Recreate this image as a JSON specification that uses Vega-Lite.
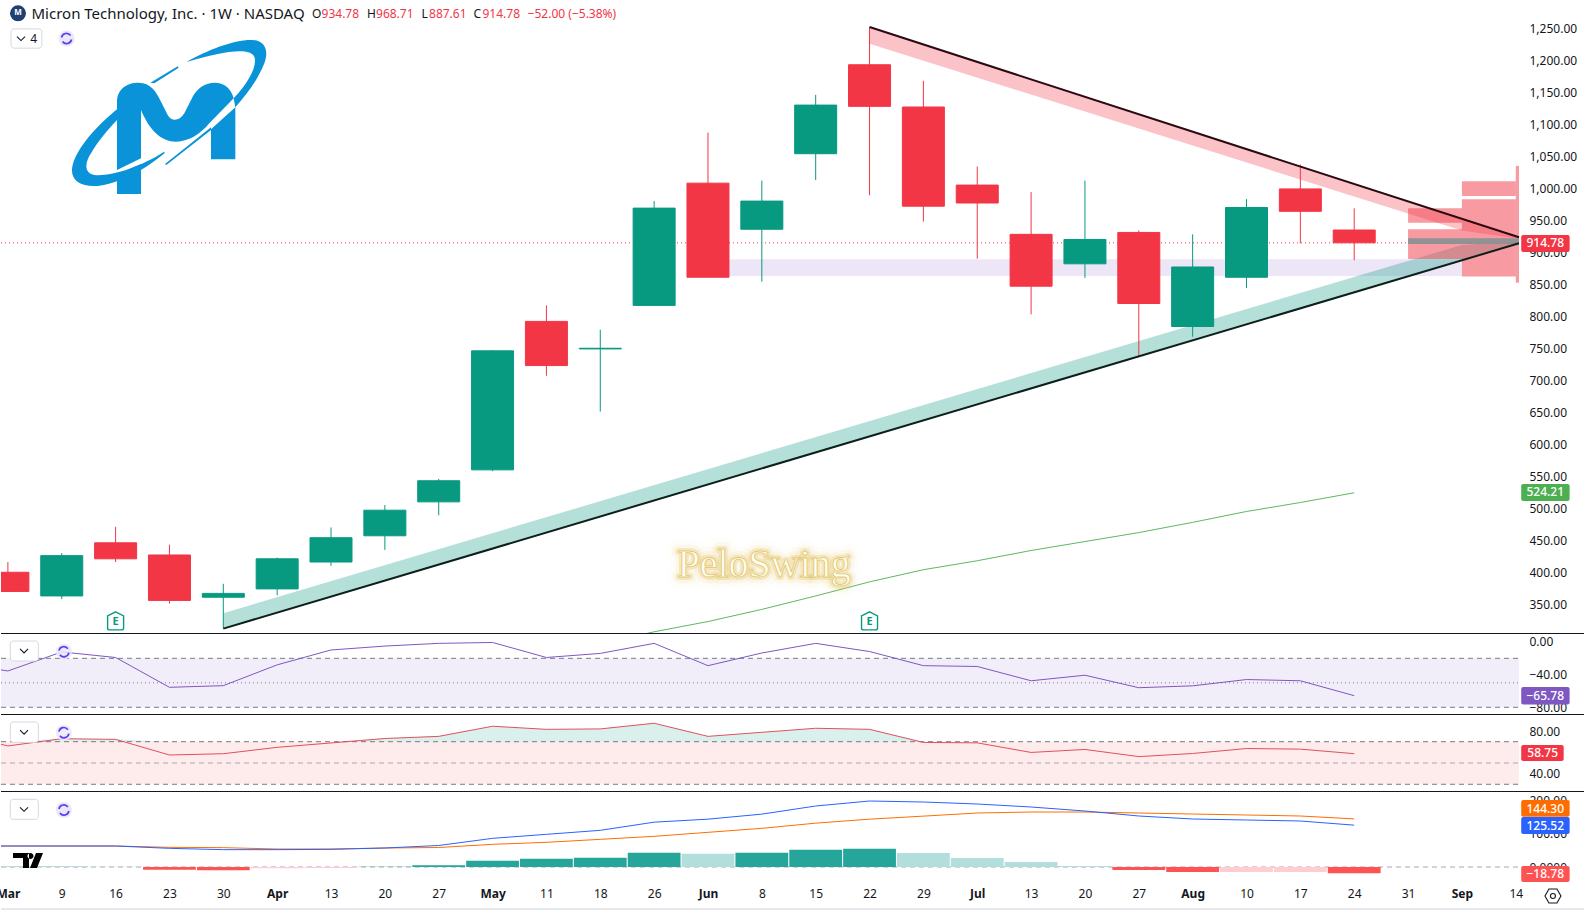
{
  "$schema": "https://vega.github.io/schema/vega-lite/v6.json",
  "background": "#ffffff",
  "padding": {"left": -5, "right": 0, "top": 0, "bottom": 0},
  "spacing": 0,
  "bounds": "flush",
  "resolve": {"scale": {"color": "independent", "stroke": "independent"}},
  "config": {"view": {"stroke": null}, "text": {"font": "Noto Sans"}},
  "datasets": {
    "candles": [
      {"date": "2026-03-02", "open": 400, "high": 416, "low": 369, "close": 370, "dir": "down"},
      {"date": "2026-03-09", "open": 363, "high": 430, "low": 358, "close": 426, "dir": "up"},
      {"date": "2026-03-16", "open": 446, "high": 471, "low": 416, "close": 421, "dir": "down"},
      {"date": "2026-03-23", "open": 427, "high": 443, "low": 351, "close": 356, "dir": "down"},
      {"date": "2026-03-30", "open": 361, "high": 382, "low": 312, "close": 367, "dir": "up"},
      {"date": "2026-04-06", "open": 374, "high": 423, "low": 364, "close": 421, "dir": "up"},
      {"date": "2026-04-13", "open": 416, "high": 470, "low": 410, "close": 454, "dir": "up"},
      {"date": "2026-04-20", "open": 457, "high": 505, "low": 435, "close": 497, "dir": "up"},
      {"date": "2026-04-27", "open": 510, "high": 546, "low": 489, "close": 543, "dir": "up"},
      {"date": "2026-05-04", "open": 560, "high": 747, "low": 558, "close": 746, "dir": "up"},
      {"date": "2026-05-11", "open": 792, "high": 817, "low": 707, "close": 723, "dir": "down"},
      {"date": "2026-05-18", "open": 749, "high": 779, "low": 651, "close": 750, "dir": "up"},
      {"date": "2026-05-25", "open": 817, "high": 980, "low": 817, "close": 969, "dir": "up"},
      {"date": "2026-06-01", "open": 1008, "high": 1087, "low": 861, "close": 861, "dir": "down"},
      {"date": "2026-06-08", "open": 936, "high": 1012, "low": 854, "close": 980, "dir": "up"},
      {"date": "2026-06-15", "open": 1054, "high": 1146, "low": 1013, "close": 1130, "dir": "up"},
      {"date": "2026-06-22", "open": 1193, "high": 1252, "low": 989, "close": 1128, "dir": "down"},
      {"date": "2026-06-29", "open": 1127, "high": 1168, "low": 948, "close": 972, "dir": "down"},
      {"date": "2026-07-06", "open": 1005, "high": 1034, "low": 890, "close": 977, "dir": "down"},
      {"date": "2026-07-13", "open": 928, "high": 994, "low": 803, "close": 847, "dir": "down"},
      {"date": "2026-07-20", "open": 882, "high": 1012, "low": 860, "close": 920, "dir": "up"},
      {"date": "2026-07-27", "open": 931, "high": 934, "low": 738, "close": 820, "dir": "down"},
      {"date": "2026-08-03", "open": 784, "high": 928, "low": 768, "close": 877, "dir": "up"},
      {"date": "2026-08-10", "open": 861, "high": 983, "low": 844, "close": 970, "dir": "up"},
      {"date": "2026-08-17", "open": 999, "high": 1037, "low": 914, "close": 964, "dir": "down"},
      {"date": "2026-08-24", "open": 934.78, "high": 968.71, "low": 887.61, "close": 914.78, "dir": "down"}
    ],
    "ma": [
      {"date": "2026-05-18", "price": 288},
      {"date": "2026-05-25", "price": 307},
      {"date": "2026-06-01", "price": 323},
      {"date": "2026-06-08", "price": 342},
      {"date": "2026-06-15", "price": 363},
      {"date": "2026-06-22", "price": 385},
      {"date": "2026-06-29", "price": 404},
      {"date": "2026-07-06", "price": 418},
      {"date": "2026-07-13", "price": 434},
      {"date": "2026-07-20", "price": 448},
      {"date": "2026-07-27", "price": 462},
      {"date": "2026-08-03", "price": 478},
      {"date": "2026-08-10", "price": 495},
      {"date": "2026-08-17", "price": 509},
      {"date": "2026-08-24", "price": 524.21}
    ],
    "oscillators": [
      {"date": "2026-02-23", "wpr": -25.7, "rsi": 78, "over": 78, "macd": 62, "signal": 62},
      {"date": "2026-03-02", "wpr": -35.5, "rsi": 66, "over": 70, "macd": 63, "signal": 63},
      {"date": "2026-03-09", "wpr": -12.2, "rsi": 72.8, "over": 72.8, "macd": 63, "signal": 63},
      {"date": "2026-03-16", "wpr": -19, "rsi": 72.2, "over": 72.2, "macd": 63, "signal": 63},
      {"date": "2026-03-23", "wpr": -55.5, "rsi": 57.5, "over": 70, "macd": 56, "signal": 59},
      {"date": "2026-03-30", "wpr": -53.5, "rsi": 58.7, "over": 70, "macd": 52, "signal": 58},
      {"date": "2026-04-06", "wpr": -28, "rsi": 64.7, "over": 70, "macd": 52, "signal": 54},
      {"date": "2026-04-13", "wpr": -9.8, "rsi": 68.8, "over": 70, "macd": 53, "signal": 54},
      {"date": "2026-04-20", "wpr": -5, "rsi": 73, "over": 73, "macd": 57, "signal": 57},
      {"date": "2026-04-27", "wpr": -1.7, "rsi": 75, "over": 75, "macd": 64.5, "signal": 58.5},
      {"date": "2026-05-04", "wpr": -0.6, "rsi": 84.5, "over": 84.5, "macd": 86, "signal": 68},
      {"date": "2026-05-11", "wpr": -19, "rsi": 81.6, "over": 81.6, "macd": 98, "signal": 74},
      {"date": "2026-05-18", "wpr": -14, "rsi": 82, "over": 82, "macd": 110, "signal": 83},
      {"date": "2026-05-25", "wpr": -1.7, "rsi": 87.3, "over": 87.3, "macd": 134.5, "signal": 92},
      {"date": "2026-06-01", "wpr": -29, "rsi": 75, "over": 75, "macd": 143.5, "signal": 104},
      {"date": "2026-06-08", "wpr": -13.5, "rsi": 78.8, "over": 78.8, "macd": 158.6, "signal": 116},
      {"date": "2026-06-15", "wpr": -1.7, "rsi": 82.6, "over": 82.6, "macd": 183, "signal": 131.5},
      {"date": "2026-06-22", "wpr": -11.7, "rsi": 81.6, "over": 81.6, "macd": 198, "signal": 143.5},
      {"date": "2026-06-29", "wpr": -29, "rsi": 69.3, "over": 70, "macd": 195, "signal": 152.6},
      {"date": "2026-07-06", "wpr": -30, "rsi": 68.9, "over": 70, "macd": 189, "signal": 162},
      {"date": "2026-07-13", "wpr": -47.5, "rsi": 59.9, "over": 70, "macd": 180, "signal": 165},
      {"date": "2026-07-20", "wpr": -40.7, "rsi": 62.7, "over": 70, "macd": 168, "signal": 165},
      {"date": "2026-07-27", "wpr": -56, "rsi": 56, "over": 70, "macd": 153, "signal": 162},
      {"date": "2026-08-03", "wpr": -53.7, "rsi": 58.9, "over": 70, "macd": 144, "signal": 159},
      {"date": "2026-08-10", "wpr": -46, "rsi": 63.6, "over": 70, "macd": 141, "signal": 156},
      {"date": "2026-08-17", "wpr": -47.5, "rsi": 63, "over": 70, "macd": 138, "signal": 153},
      {"date": "2026-08-24", "wpr": -65.78, "rsi": 58.75, "over": 70, "macd": 125.52, "signal": 144.3}
    ],
    "hist": [
      {"date": "2026-03-02", "hist": 3, "kind": "up faint"},
      {"date": "2026-03-09", "hist": 3, "kind": "up faint"},
      {"date": "2026-03-16", "hist": 1, "kind": "up faint"},
      {"date": "2026-03-23", "hist": -8, "kind": "down strong"},
      {"date": "2026-03-30", "hist": -10, "kind": "down strong"},
      {"date": "2026-04-06", "hist": -4, "kind": "down faint"},
      {"date": "2026-04-13", "hist": -3, "kind": "down faint"},
      {"date": "2026-04-20", "hist": 1, "kind": "up strong"},
      {"date": "2026-04-27", "hist": 5, "kind": "up strong"},
      {"date": "2026-05-04", "hist": 19, "kind": "up strong"},
      {"date": "2026-05-11", "hist": 25, "kind": "up strong"},
      {"date": "2026-05-18", "hist": 28, "kind": "up strong"},
      {"date": "2026-05-25", "hist": 43, "kind": "up strong"},
      {"date": "2026-06-01", "hist": 40, "kind": "up faint"},
      {"date": "2026-06-08", "hist": 43, "kind": "up strong"},
      {"date": "2026-06-15", "hist": 52, "kind": "up strong"},
      {"date": "2026-06-22", "hist": 55, "kind": "up strong"},
      {"date": "2026-06-29", "hist": 42, "kind": "up faint"},
      {"date": "2026-07-06", "hist": 27, "kind": "up faint"},
      {"date": "2026-07-13", "hist": 15, "kind": "up faint"},
      {"date": "2026-07-20", "hist": 3, "kind": "up faint"},
      {"date": "2026-07-27", "hist": -9, "kind": "down strong"},
      {"date": "2026-08-03", "hist": -15, "kind": "down strong"},
      {"date": "2026-08-10", "hist": -15, "kind": "down faint"},
      {"date": "2026-08-17", "hist": -15, "kind": "down faint"},
      {"date": "2026-08-24", "hist": -18.78, "kind": "down strong"}
    ]
  },
  "vconcat": [
    {
      "width": 1518,
      "height": 633,
      "encoding": {
        "x": {"field": "date", "type": "temporal", "title": null, "axis": null, "scale": {"type": "utc", "nice": false, "padding": 0, "domain": [1772332185600, 1789380288000]}},
        "y": {"field": "price", "type": "quantitative", "title": null, "scale": {"nice": false, "zero": false, "domain": [305.1, 1294.2]}, "axis": {"orient": "right", "values": [350, 400, 450, 500, 550, 600, 650, 700, 750, 800, 850, 900, 950, 1000, 1050, 1100, 1150, 1200, 1250], "format": ",.2f", "domain": false, "ticks": false, "grid": false, "labelPadding": 10, "labelFont": "Noto Sans", "labelFontSize": 12, "labelColor": "#131722", "labelOverlap": false, "labelBound": false, "title": null}}
      },
      "layer": [
        {
          "data": {"values": [{"date": "2026-03-01T02:30:00Z", "end": "2026-09-14T10:00:00Z", "price": 914.78}]},
          "mark": {"type": "rule", "color": "#F23645", "strokeWidth": 1, "strokeDash": [1, 3]},
          "encoding": {"x2": {"field": "end"}}
        },
        {
          "data": {"values": [{"date": "2026-06-01", "end": "2026-09-07", "price": 889, "price2": 863}]},
          "mark": {"type": "rect", "color": "#7e57c2", "opacity": 0.15},
          "encoding": {"x2": {"field": "end"}, "y2": {"field": "price2"}}
        },
        {
          "data": {"values": [{"date": "2026-03-30", "price": 336, "price2": 312}, {"date": "2026-09-07", "price": 911.5, "price2": 887.5}, {"date": "2026-09-14T10:00:00Z", "price": 917, "price2": 914}]},
          "mark": {"type": "area", "color": "#089981", "opacity": 0.3},
          "encoding": {"y2": {"field": "price2"}}
        },
        {
          "data": {"values": [{"date": "2026-06-22", "price": 1252, "price2": 1226}, {"date": "2026-09-07", "price": 952.3, "price2": 934}, {"date": "2026-09-14T10:00:00Z", "price": 923.4, "price2": 921}]},
          "mark": {"type": "area", "color": "#F23645", "opacity": 0.3},
          "encoding": {"y2": {"field": "price2"}}
        },
        {
          "data": {"name": "ma"},
          "mark": {"type": "line", "color": "#4caf50", "strokeWidth": 0.9, "clip": true}
        },
        {
          "data": {"name": "candles"},
          "mark": {"type": "rule", "strokeWidth": 1, "clip": true},
          "encoding": {
            "y": {"field": "low", "type": "quantitative"},
            "y2": {"field": "high"},
            "color": {"field": "dir", "type": "nominal", "legend": null, "scale": {"domain": ["up", "down", "ma"], "range": ["#089981", "#F23645", "#4caf50"]}}
          }
        },
        {
          "data": {"name": "candles"},
          "mark": {"type": "bar", "size": 42, "clip": true, "strokeWidth": 1},
          "encoding": {
            "y": {"field": "open", "type": "quantitative"},
            "y2": {"field": "close"},
            "color": {"field": "dir", "type": "nominal", "legend": null, "scale": {"domain": ["up", "down", "ma"], "range": ["#089981", "#F23645", "#4caf50"]}},
            "stroke": {"field": "dir", "type": "nominal", "legend": null, "scale": {"domain": ["up", "down", "ma"], "range": ["#089981", "#F23645", "#4caf50"]}}
          }
        },
        {
          "data": {"values": [
            {"date": "2026-08-31", "end": "2026-09-07", "price": 968.7, "price2": 946.2},
            {"date": "2026-08-31", "end": "2026-09-07", "price": 936, "price2": 889.5},
            {"date": "2026-09-07", "end": "2026-09-14", "price": 1011, "price2": 988},
            {"date": "2026-09-07", "end": "2026-09-14", "price": 982.8, "price2": 862},
            {"date": "2026-09-14", "end": "2026-09-14T10:00:00Z", "price": 1035, "price2": 852.5}
          ]},
          "mark": {"type": "rect", "color": "#F23645", "opacity": 0.5},
          "encoding": {"x2": {"field": "end"}, "y2": {"field": "price2"}}
        },
        {
          "data": {"values": [{"date": "2026-08-31", "end": "2026-09-14T10:00:00Z", "price": 921.9, "price2": 913}]},
          "mark": {"type": "rect", "color": "#8c9094", "opacity": 0.95},
          "encoding": {"x2": {"field": "end"}, "y2": {"field": "price2"}}
        },
        {
          "data": {"values": [{"date": "2026-03-30", "price": 312}, {"date": "2026-09-14T10:00:00Z", "price": 914}]},
          "mark": {"type": "line", "color": "#0c1f1a", "strokeWidth": 2}
        },
        {
          "data": {"values": [{"date": "2026-06-22", "price": 1252}, {"date": "2026-09-14T10:00:00Z", "price": 923.4}]},
          "mark": {"type": "line", "color": "#2a0a10", "strokeWidth": 2}
        },
        {
          "data": {"values": [
            {"date": "2026-09-14T17:00:00Z", "end": "2026-09-21T00:00:00Z", "price": 927, "price2": 900.5, "dir": "down"},
            {"date": "2026-09-14T17:00:00Z", "end": "2026-09-21T00:00:00Z", "price": 538, "price2": 511.4, "dir": "ma"}
          ]},
          "mark": {"type": "rect", "cornerRadius": 2},
          "encoding": {
            "x2": {"field": "end"},
            "y2": {"field": "price2"},
            "color": {"field": "dir", "type": "nominal", "legend": null, "scale": {"domain": ["up", "down", "ma"], "range": ["#089981", "#F23645", "#4caf50"]}}
          }
        },
        {
          "data": {"values": [
            {"date": "2026-09-17T20:00:00Z", "price": 913.8, "label": "914.78"},
            {"date": "2026-09-17T20:00:00Z", "price": 524.7, "label": "524.21"}
          ]},
          "mark": {"type": "text", "color": "#ffffff", "fontSize": 12, "fontWeight": 500, "font": "Noto Sans"},
          "encoding": {"text": {"field": "label"}}
        },
        {
          "data": {"values": [{"date": "2026-03-16", "price": 324}, {"date": "2026-06-22", "price": 324}]},
          "mark": {"type": "point", "shape": "M0,-9 L8,-5 L8,7 Q8,9 6,9 L-6,9 Q-8,9 -8,7 L-8,-5 Z", "size": 4, "filled": false, "fill": "#ffffff", "stroke": "#089981", "strokeWidth": 1.4, "opacity": 1}
        },
        {
          "data": {"values": [{"date": "2026-03-16", "price": 322, "label": "E"}, {"date": "2026-06-22", "price": 322, "label": "E"}]},
          "mark": {"type": "text", "color": "#089981", "fontSize": 11, "fontWeight": "bold"},
          "encoding": {"text": {"field": "label"}}
        },
        {
          "data": {"values": [{"date": "2026-03-23T04:52:00Z", "price": 1114.5}]},
          "mark": {"type": "point", "size": 0.4444, "filled": true, "color": "#0a93d9", "strokeWidth": 0, "opacity": 1, "shape": "M -162 237 L -162 -40 C -162 -80 -130 -97 -98 -97 C -60 -97 -45 -70 -30 -40 L -10 0 C 0 20 25 20 40 -5 L 65 -55 C 80 -83 105 -97 130 -97 C 160 -97 180 -80 188 -50 L 115 25 C 90 55 55 80 15 80 C -30 80 -65 45 -90 -15 L -90 237 Z M 193 -23 L 193 133 L 120 133 L 120 43 Z M -18 147 L 120 37 L 120 45 L -14 150 Z M 20 -146 L 23 -142 L -50 -95 L -62 -97 Z"}
        },
        {
          "data": {"values": [{"date": "2026-03-23T04:52:00Z", "price": 1114.5}]},
          "mark": {"type": "point", "size": 0.4444, "filled": true, "color": "#ffffff", "strokeWidth": 0, "opacity": 1, "shape": "M -162 165 L -90 130 L -90 147 L -162 179 Z"}
        },
        {
          "data": {"values": [{"date": "2026-03-23T04:52:00Z", "price": 1114.5}]},
          "mark": {"type": "point", "size": 0.4444, "filled": true, "color": "#0a93d9", "strokeWidth": 0, "opacity": 1, "shape": "M 48 -160 C 110 -195 190 -227 245 -225 C 280 -223 295 -195 280 -155 C 260 -105 230 -65 193 -23 L 188 -50 C 230 -95 260 -145 250 -175 C 235 -205 150 -190 50 -160 Z M -162 -17 C -220 30 -280 95 -295 150 C -305 190 -280 213 -230 213 C -180 213 -90 175 -18 113 L -22 111 C -90 155 -180 185 -230 180 C -260 175 -260 145 -240 115 C -220 80 -190 45 -162 15 Z"}
        },
        {
          "data": {"values": [{"date": "2026-06-08T07:00:00Z", "price": 411.4, "label": "PeloSwing"}]},
          "mark": {"type": "text", "font": "Liberation Serif", "fontSize": 40, "stroke": "#e6c45c", "strokeWidth": 22, "strokeOpacity": 0.05, "strokeJoin": "round", "fill": "#e6c45c", "fillOpacity": 0.1},
          "encoding": {"text": {"field": "label"}}
        },
        {
          "data": {"values": [{"date": "2026-06-08T07:00:00Z", "price": 411.4, "label": "PeloSwing"}]},
          "mark": {"type": "text", "font": "Liberation Serif", "fontSize": 40, "stroke": "#e6c45c", "strokeWidth": 13, "strokeOpacity": 0.1, "strokeJoin": "round", "fill": "#e6c45c", "fillOpacity": 0.1},
          "encoding": {"text": {"field": "label"}}
        },
        {
          "data": {"values": [{"date": "2026-06-08T07:00:00Z", "price": 411.4, "label": "PeloSwing"}]},
          "mark": {"type": "text", "font": "Liberation Serif", "fontSize": 40, "stroke": "#e3bf55", "strokeWidth": 6, "strokeOpacity": 0.3, "strokeJoin": "round", "fill": "#e3bf55"},
          "encoding": {"text": {"field": "label"}}
        },
        {
          "data": {"values": [{"date": "2026-06-08T07:00:00Z", "price": 411.4, "label": "PeloSwing"}]},
          "mark": {"type": "text", "font": "Liberation Serif", "fontSize": 40, "stroke": "#dcb748", "strokeWidth": 0.8, "strokeOpacity": 0.7, "strokeJoin": "round", "fill": "#fffdf0"},
          "encoding": {"text": {"field": "label"}}
        },
        {
          "data": {"values": [{"date": "2026-03-03T07:30:00Z", "price": 1273.4}]},
          "mark": {"type": "point", "shape": "circle", "size": 256, "filled": true, "color": "#1f3f75", "opacity": 1}
        },
        {
          "data": {"values": [{"date": "2026-03-03T07:30:00Z", "price": 1273.4, "label": "M"}]},
          "mark": {"type": "text", "color": "#ffffff", "fontSize": 8, "fontWeight": "bold"},
          "encoding": {"text": {"field": "label"}}
        },
        {
          "data": {"values": [{"date": "2026-03-05T01:36:00Z", "price": 1273, "label": "Micron Technology, Inc. · 1W · NASDAQ"}]},
          "mark": {"type": "text", "align": "left", "color": "#131722", "fontSize": 15},
          "encoding": {"text": {"field": "label"}}
        },
        {
          "data": {"values": [
            {"date": "2026-04-10T12:43:00Z", "price": 1273, "label": "O"},
            {"date": "2026-04-17T16:19:00Z", "price": 1273, "label": "H"},
            {"date": "2026-04-24T18:14:00Z", "price": 1273, "label": "L"},
            {"date": "2026-05-01T12:29:00Z", "price": 1273, "label": "C"}
          ]},
          "mark": {"type": "text", "align": "left", "color": "#131722", "fontSize": 12},
          "encoding": {"text": {"field": "label"}}
        },
        {
          "data": {"values": [
            {"date": "2026-04-11T18:28:00Z", "price": 1273, "label": "934.78"},
            {"date": "2026-04-18T20:24:00Z", "price": 1273, "label": "968.71"},
            {"date": "2026-04-25T17:46:00Z", "price": 1273, "label": "887.61"},
            {"date": "2026-05-02T16:34:00Z", "price": 1273, "label": "914.78"},
            {"date": "2026-05-08T13:26:00Z", "price": 1273, "label": "−52.00 (−5.38%)"}
          ]},
          "mark": {"type": "text", "align": "left", "color": "#F23645", "fontSize": 12},
          "encoding": {"text": {"field": "label"}}
        },
        {
          "data": {"values": [{"date": "2026-03-02T09:42:00Z", "end": "2026-03-06T10:00:00Z", "price": 1249, "price2": 1219}]},
          "mark": {"type": "rect", "fill": "#ffffff", "stroke": "#d6d8de", "strokeWidth": 1, "cornerRadius": 3},
          "encoding": {"x2": {"field": "end"}, "y2": {"field": "price2"}}
        },
        {
          "data": {"values": [{"date": "2026-03-03T16:48:00Z", "price": 1234}]},
          "mark": {"type": "point", "shape": "M-4,-2 L0,2 L4,-2", "size": 4, "filled": false, "stroke": "#131722", "strokeWidth": 1.1, "opacity": 1}
        },
        {
          "data": {"values": [{"date": "2026-03-05T08:48:00Z", "price": 1234, "label": "4"}]},
          "mark": {"type": "text", "color": "#131722", "fontSize": 12},
          "encoding": {"text": {"field": "label"}}
        },
        {
          "data": {"values": [{"date": "2026-03-09T15:00:00Z", "price": 1234}]},
          "mark": {"type": "point", "shape": "circle", "size": 256, "filled": true, "color": "#ebe7fb", "opacity": 1}
        },
        {
          "data": {"values": [{"date": "2026-03-09T15:00:00Z", "price": 1234}]},
          "mark": {"type": "point", "shape": "M-5,-1 A5,5 0 0,1 4,-3 M5,1 A5,5 0 0,1 -4,3", "size": 4, "filled": false, "stroke": "#5b3ef0", "strokeWidth": 1.7, "opacity": 1}
        },
        {
          "data": {"values": [{"date": "2026-03-01T02:30:00Z", "end": "2026-09-23T00:00:00Z", "price": 305.1}]},
          "mark": {"type": "rule", "color": "#131722", "strokeWidth": 1, "yOffset": 0.5},
          "encoding": {"x2": {"field": "end"}}
        }
      ]
    },
    {
      "width": 1518,
      "height": 81,
      "encoding": {
        "x": {"field": "date", "type": "temporal", "title": null, "axis": null, "scale": {"type": "utc", "nice": false, "padding": 0, "domain": [1772332185600, 1789380288000]}},
        "y": {"field": "price", "type": "quantitative", "title": null, "scale": {"nice": false, "zero": false, "domain": [-88.2, 11]}, "axis": {"orient": "right", "values": [0, -40, -80], "format": ".2f", "domain": false, "ticks": false, "grid": false, "labelPadding": 10, "labelFont": "Noto Sans", "labelFontSize": 12, "labelColor": "#131722", "labelOverlap": false, "labelBound": false, "title": null}}
      },
      "layer": [
        {
          "data": {"values": [{"date": "2026-03-01T02:30:00Z", "end": "2026-09-14T10:00:00Z", "price": -20, "price2": -80}]},
          "mark": {"type": "rect", "color": "#7e57c2", "opacity": 0.1},
          "encoding": {"x2": {"field": "end"}, "y2": {"field": "price2"}}
        },
        {
          "data": {"values": [{"date": "2026-03-01T02:30:00Z", "end": "2026-09-14T10:00:00Z", "price": -20}, {"date": "2026-03-01T02:30:00Z", "end": "2026-09-14T10:00:00Z", "price": -80}]},
          "mark": {"type": "rule", "color": "#787b86", "strokeWidth": 1, "strokeDash": [5, 4]},
          "encoding": {"x2": {"field": "end"}}
        },
        {
          "data": {"values": [{"date": "2026-03-01T02:30:00Z", "end": "2026-09-14T10:00:00Z", "price": -50}]},
          "mark": {"type": "rule", "color": "#787b86", "strokeWidth": 1, "strokeDash": [1, 3]},
          "encoding": {"x2": {"field": "end"}}
        },
        {
          "data": {"name": "oscillators"},
          "mark": {"type": "line", "color": "#7e57c2", "strokeWidth": 1, "clip": true},
          "encoding": {"y": {"field": "wpr", "type": "quantitative"}}
        },
        {
          "data": {"values": [{"date": "2026-09-14T17:00:00Z", "end": "2026-09-21T00:00:00Z", "price": -55, "price2": -76.5}]},
          "mark": {"type": "rect", "color": "#7e57c2", "cornerRadius": 2},
          "encoding": {"x2": {"field": "end"}, "y2": {"field": "price2"}}
        },
        {
          "data": {"values": [{"date": "2026-09-17T20:00:00Z", "price": -65.8, "label": "−65.78"}]},
          "mark": {"type": "text", "color": "#ffffff", "fontSize": 12, "fontWeight": 500},
          "encoding": {"text": {"field": "label"}}
        },
        {
          "data": {"values": [{"date": "2026-03-02T07:30:00Z", "end": "2026-03-05T23:00:00Z", "price": 1.2, "price2": -23.3}]},
          "mark": {"type": "rect", "fill": "#ffffff", "stroke": "#d6d8de", "strokeWidth": 1, "cornerRadius": 3},
          "encoding": {"x2": {"field": "end"}, "y2": {"field": "price2"}}
        },
        {
          "data": {"values": [{"date": "2026-03-04T02:24:00Z", "price": -11}]},
          "mark": {"type": "point", "shape": "M-4,-2 L0,2 L4,-2", "size": 4, "filled": false, "stroke": "#131722", "strokeWidth": 1.1, "opacity": 1}
        },
        {
          "data": {"values": [{"date": "2026-03-09T06:43:00Z", "price": -11.9}]},
          "mark": {"type": "point", "shape": "circle", "size": 256, "filled": true, "color": "#ebe7fb", "opacity": 0.85}
        },
        {
          "data": {"values": [{"date": "2026-03-09T06:43:00Z", "price": -11.9}]},
          "mark": {"type": "point", "shape": "M-5,-1 A5,5 0 0,1 4,-3 M5,1 A5,5 0 0,1 -4,3", "size": 4, "filled": false, "stroke": "#5b3ef0", "strokeWidth": 1.7, "opacity": 1}
        },
        {
          "data": {"values": [{"date": "2026-03-01T02:30:00Z", "end": "2026-09-23T00:00:00Z", "price": -88.2}]},
          "mark": {"type": "rule", "color": "#131722", "strokeWidth": 1, "yOffset": 0.5},
          "encoding": {"x2": {"field": "end"}}
        }
      ]
    },
    {
      "width": 1518,
      "height": 77,
      "encoding": {
        "x": {"field": "date", "type": "temporal", "title": null, "axis": null, "scale": {"type": "utc", "nice": false, "padding": 0, "domain": [1772332185600, 1789380288000]}},
        "y": {"field": "price", "type": "quantitative", "title": null, "scale": {"nice": false, "zero": false, "domain": [23.7, 96]}, "axis": {"orient": "right", "values": [80, 40], "format": ".2f", "domain": false, "ticks": false, "grid": false, "labelPadding": 10, "labelFont": "Noto Sans", "labelFontSize": 12, "labelColor": "#131722", "labelOverlap": false, "labelBound": false, "title": null}}
      },
      "layer": [
        {
          "data": {"values": [{"date": "2026-03-01T02:30:00Z", "end": "2026-09-14T10:00:00Z", "price": 70, "price2": 30}]},
          "mark": {"type": "rect", "color": "#F23645", "opacity": 0.1},
          "encoding": {"x2": {"field": "end"}, "y2": {"field": "price2"}}
        },
        {
          "data": {"name": "oscillators"},
          "mark": {"type": "area", "color": "#089981", "opacity": 0.15, "clip": true},
          "encoding": {"y": {"field": "over", "type": "quantitative"}, "y2": {"datum": 70}}
        },
        {
          "data": {"values": [{"date": "2026-03-01T02:30:00Z", "end": "2026-09-14T10:00:00Z", "price": 70}, {"date": "2026-03-01T02:30:00Z", "end": "2026-09-14T10:00:00Z", "price": 30}]},
          "mark": {"type": "rule", "color": "#787b86", "strokeWidth": 1, "strokeDash": [5, 4]},
          "encoding": {"x2": {"field": "end"}}
        },
        {
          "data": {"values": [{"date": "2026-03-01T02:30:00Z", "end": "2026-09-14T10:00:00Z", "price": 50}]},
          "mark": {"type": "rule", "color": "#a8aab3", "strokeWidth": 1, "strokeDash": [5, 4]},
          "encoding": {"x2": {"field": "end"}}
        },
        {
          "data": {"name": "oscillators"},
          "mark": {"type": "line", "color": "#e2505d", "strokeWidth": 1, "clip": true},
          "encoding": {"y": {"field": "rsi", "type": "quantitative"}}
        },
        {
          "data": {"values": [{"date": "2026-09-14T17:00:00Z", "end": "2026-09-20T05:30:00Z", "price": 66.9, "price2": 51.8}]},
          "mark": {"type": "rect", "color": "#F23645", "cornerRadius": 2},
          "encoding": {"x2": {"field": "end"}, "y2": {"field": "price2"}}
        },
        {
          "data": {"values": [{"date": "2026-09-17T12:00:00Z", "price": 59, "label": "58.75"}]},
          "mark": {"type": "text", "color": "#ffffff", "fontSize": 12, "fontWeight": 500},
          "encoding": {"text": {"field": "label"}}
        },
        {
          "data": {"values": [{"date": "2026-03-02T07:30:00Z", "end": "2026-03-05T23:00:00Z", "price": 88.5, "price2": 69.4}]},
          "mark": {"type": "rect", "fill": "#ffffff", "stroke": "#d6d8de", "strokeWidth": 1, "cornerRadius": 3},
          "encoding": {"x2": {"field": "end"}, "y2": {"field": "price2"}}
        },
        {
          "data": {"values": [{"date": "2026-03-04T02:24:00Z", "price": 79}]},
          "mark": {"type": "point", "shape": "M-4,-2 L0,2 L4,-2", "size": 4, "filled": false, "stroke": "#131722", "strokeWidth": 1.1, "opacity": 1}
        },
        {
          "data": {"values": [{"date": "2026-03-09T06:43:00Z", "price": 78.5}]},
          "mark": {"type": "point", "shape": "circle", "size": 256, "filled": true, "color": "#ebe7fb", "opacity": 0.85}
        },
        {
          "data": {"values": [{"date": "2026-03-09T06:43:00Z", "price": 78.5}]},
          "mark": {"type": "point", "shape": "M-5,-1 A5,5 0 0,1 4,-3 M5,1 A5,5 0 0,1 -4,3", "size": 4, "filled": false, "stroke": "#5b3ef0", "strokeWidth": 1.7, "opacity": 1}
        },
        {
          "data": {"values": [{"date": "2026-03-01T02:30:00Z", "end": "2026-09-23T00:00:00Z", "price": 23.7}]},
          "mark": {"type": "rule", "color": "#131722", "strokeWidth": 1, "yOffset": 0.5},
          "encoding": {"x2": {"field": "end"}}
        }
      ]
    },
    {
      "width": 1518,
      "height": 91,
      "encoding": {
        "x": {"field": "date", "type": "temporal", "title": null, "scale": {"type": "utc", "nice": false, "padding": 0, "domain": [1772332185600, 1789380288000]}, "axis": {"orient": "bottom", "title": null, "values": [1772409600000, 1773014400000, 1773619200000, 1774224000000, 1774828800000, 1775433600000, 1776038400000, 1776643200000, 1777248000000, 1777852800000, 1778457600000, 1779062400000, 1779667200000, 1780272000000, 1780876800000, 1781481600000, 1782086400000, 1782691200000, 1783296000000, 1783900800000, 1784505600000, 1785110400000, 1785715200000, 1786320000000, 1786924800000, 1787529600000, 1788134400000, 1788739200000, 1789344000000], "labelExpr": "['Mar','9','16','23','30','Apr','13','20','27','May','11','18','26','Jun','8','15','22','29','Jul','13','20','27','Aug','10','17','24','31','Sep','14'][round((datum.value - 1772409600000) / 604800000)]", "domain": false, "ticks": false, "grid": false, "labelPadding": 6, "labelFont": "Noto Sans", "labelFontSize": 12, "labelColor": "#131722", "labelOverlap": false, "labelBound": false, "labelFlush": false, "labelFontWeight": {"condition": {"test": "utcdate(datum.value) <= 7", "value": "bold"}, "value": "normal"}}},
        "y": {"field": "price", "type": "quantitative", "title": null, "scale": {"nice": false, "zero": false, "domain": [-45, 228]}, "axis": {"orient": "right", "values": [200, 100, 0], "labelExpr": "datum.value == 0 ? '0.0000' : format(datum.value, '.2f')", "domain": false, "ticks": false, "grid": false, "labelPadding": 10, "labelFont": "Noto Sans", "labelFontSize": 12, "labelColor": "#131722", "labelOverlap": false, "labelBound": false, "title": null}}
      },
      "layer": [
        {
          "data": {"values": [{"date": "2026-03-01T02:30:00Z", "end": "2026-09-14T10:00:00Z", "price": 0}]},
          "mark": {"type": "rule", "color": "#a8aab3", "strokeWidth": 1, "strokeDash": [5, 4]},
          "encoding": {"x2": {"field": "end"}}
        },
        {
          "data": {"name": "hist"},
          "mark": {"type": "bar", "size": 52.8, "clip": true},
          "encoding": {
            "y": {"field": "hist", "type": "quantitative"},
            "y2": {"datum": 0},
            "color": {"field": "kind", "type": "nominal", "legend": null, "scale": {"domain": ["up strong", "up faint", "down strong", "down faint", "macd", "signal"], "range": ["#26a69a", "#b2dfdb", "#ff5252", "#ffcdd2", "#2962ff", "#ff6d00"]}}
          }
        },
        {
          "data": {"values": [{"date": "2026-03-04T14:42:00Z", "price": 21}]},
          "mark": {"type": "point", "size": 4, "filled": true, "color": "#000000", "strokeWidth": 0, "opacity": 1, "shape": "M-15,-7 H1 V8 H-5 V-2 H-15 Z M8,-7 H15 L9,8 H2 Z M-0.5,-4 A3,3 0 1,0 5.5,-4 A3,3 0 1,0 -0.5,-4 Z"}
        },
        {
          "data": {"name": "oscillators"},
          "mark": {"type": "line", "color": "#ff6d00", "strokeWidth": 1, "clip": true},
          "encoding": {"y": {"field": "signal", "type": "quantitative"}}
        },
        {
          "data": {"name": "oscillators"},
          "mark": {"type": "line", "color": "#2962ff", "strokeWidth": 1, "clip": true},
          "encoding": {"y": {"field": "macd", "type": "quantitative"}}
        },
        {
          "data": {"values": [
            {"date": "2026-09-14T17:00:00Z", "end": "2026-09-21T00:00:00Z", "price": 201, "price2": 151, "kind": "signal"},
            {"date": "2026-09-14T17:00:00Z", "end": "2026-09-21T00:00:00Z", "price": 150, "price2": 99, "kind": "macd"},
            {"date": "2026-09-14T17:00:00Z", "end": "2026-09-21T00:00:00Z", "price": 3, "price2": -45, "kind": "down strong"}
          ]},
          "mark": {"type": "rect", "cornerRadius": 2},
          "encoding": {
            "x2": {"field": "end"},
            "y2": {"field": "price2"},
            "color": {"field": "kind", "type": "nominal", "legend": null, "scale": {"domain": ["up strong", "up faint", "down strong", "down faint", "macd", "signal"], "range": ["#26a69a", "#b2dfdb", "#ff5252", "#ffcdd2", "#2962ff", "#ff6d00"]}}
          }
        },
        {
          "data": {"values": [
            {"date": "2026-09-17T20:00:00Z", "price": 175, "label": "144.30"},
            {"date": "2026-09-17T20:00:00Z", "price": 124, "label": "125.52"},
            {"date": "2026-09-17T20:00:00Z", "price": -21, "label": "−18.78"}
          ]},
          "mark": {"type": "text", "color": "#ffffff", "fontSize": 12, "fontWeight": 500},
          "encoding": {"text": {"field": "label"}}
        },
        {
          "data": {"values": [{"date": "2026-03-02T07:30:00Z", "end": "2026-03-05T23:00:00Z", "price": 203, "price2": 143}]},
          "mark": {"type": "rect", "fill": "#ffffff", "stroke": "#d6d8de", "strokeWidth": 1, "cornerRadius": 3},
          "encoding": {"x2": {"field": "end"}, "y2": {"field": "price2"}}
        },
        {
          "data": {"values": [{"date": "2026-03-04T02:24:00Z", "price": 173}]},
          "mark": {"type": "point", "shape": "M-4,-2 L0,2 L4,-2", "size": 4, "filled": false, "stroke": "#131722", "strokeWidth": 1.1, "opacity": 1}
        },
        {
          "data": {"values": [{"date": "2026-03-09T06:43:00Z", "price": 171}]},
          "mark": {"type": "point", "shape": "circle", "size": 256, "filled": true, "color": "#ebe7fb", "opacity": 1}
        },
        {
          "data": {"values": [{"date": "2026-03-09T06:43:00Z", "price": 171}]},
          "mark": {"type": "point", "shape": "M-5,-1 A5,5 0 0,1 4,-3 M5,1 A5,5 0 0,1 -4,3", "size": 4, "filled": false, "stroke": "#5b3ef0", "strokeWidth": 1.7, "opacity": 1}
        },
        {
          "data": {"values": [{"date": "2026-09-18T20:00:00Z", "price": -87}]},
          "mark": {"type": "point", "shape": "M-8,0 L-4,-7 L4,-7 L8,0 L4,7 L-4,7 Z M-2.5,0 A2.5,2.5 0 1,0 2.5,0 A2.5,2.5 0 1,0 -2.5,0", "size": 4, "filled": false, "stroke": "#131722", "strokeWidth": 1.1, "opacity": 1}
        },
        {
          "data": {"values": [{"date": "2026-03-01T02:30:00Z", "end": "2026-09-23T00:00:00Z", "price": -126}]},
          "mark": {"type": "rule", "color": "#e6e8ee", "strokeWidth": 2},
          "encoding": {"x2": {"field": "end"}}
        }
      ]
    }
  ]
}
